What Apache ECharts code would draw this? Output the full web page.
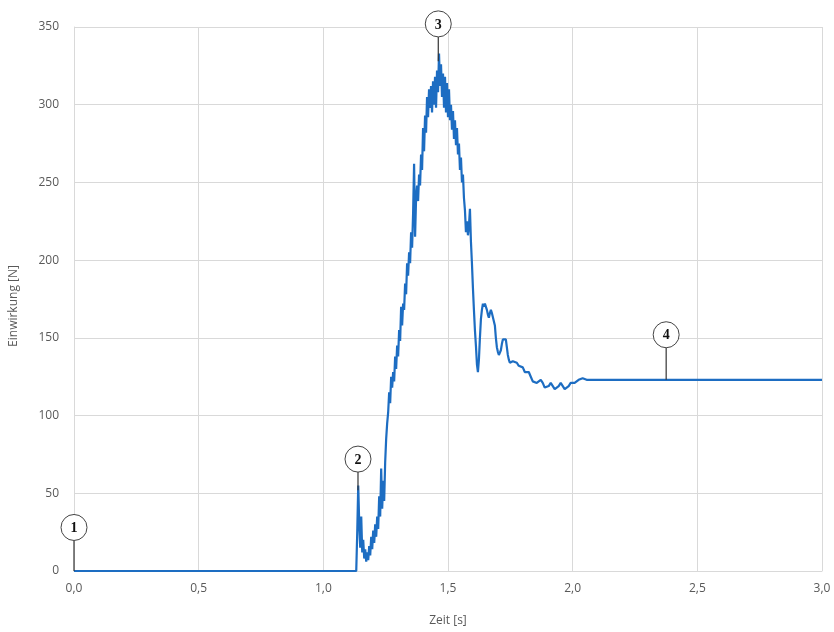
<!DOCTYPE html>
<html>
<head>
<meta charset="utf-8">
<script src="https://cdn.jsdelivr.net/npm/echarts@6/dist/echarts.min.js"></script>
<style>
html,body{margin:0;padding:0;background:#fff;}
#chart{width:834px;height:632px;}
</style>
</head>
<body>
<div id="chart"></div>
<script>
// Time [s] and force [N]
const timeStart = [0.000];
const forceStart = [0];

const timeA = [1.132,1.136,1.140,1.144,1.148,1.152,1.156,1.160,1.164,1.168,
               1.172,1.176,1.180,1.184,1.188,1.192,1.196,1.200,1.204,1.208,
               1.212,1.216,1.220,1.224,1.228,1.232,1.236,1.240,1.244,1.248];
const forceA = [0,25,55,30,15,35,12,20,8,14,
                6,12,7,16,10,22,14,26,18,30,
                22,35,27,48,35,66,40,58,45,70];

const timeB = [1.252,1.256,1.260,1.264,1.268,1.272,1.276,1.280,1.284,1.288,
               1.292,1.296,1.300,1.304,1.308,1.312,1.316,1.320,1.324,1.328,
               1.332,1.336,1.340,1.344,1.348,1.352,1.356,1.360,1.364,1.368];
const forceB = [85,95,102,115,108,125,118,128,122,138,
                130,145,138,155,148,170,158,172,168,185,
                178,198,190,205,198,218,208,230,262,215];

const timeC = [1.372,1.376,1.380,1.384,1.388,1.392,1.396,1.400,1.404,1.408,
               1.412,1.416,1.420,1.424,1.428,1.432,1.436,1.440,1.444,1.448,
               1.452,1.456,1.460,1.464,1.468,1.472,1.476,1.480,1.484,1.488];
const forceC = [240,248,238,255,248,268,258,285,270,293,
                282,305,292,310,298,312,295,315,300,318,
                298,322,308,333,312,326,305,320,298,318];

const timeD = [1.492,1.496,1.500,1.504,1.508,1.512,1.516,1.520,1.524,1.528,
               1.532,1.536,1.540,1.544,1.548,1.552,1.556,1.560,1.564,1.568,
               1.572,1.576,1.580,1.584,1.588,1.592,1.596,1.600,1.604,1.608];
const forceD = [295,314,292,310,290,300,284,296,278,290,
                274,285,268,275,258,266,250,255,240,232,
                218,225,216,222,233,212,198,182,168,155];

const timeE = [1.612,1.616,1.620,1.624,1.628,1.632,1.636,1.640,1.644,1.648,
               1.652,1.656,1.660,1.664,1.668,1.672,1.676,1.680,1.684,1.688,
               1.692,1.696,1.700,1.704,1.708,1.712,1.716,1.720,1.724,1.728];
const forceE = [145,133,128,136,150,162,168,172,170,172,
                172,168,165,163,166,168,166,166,165,158,
                150,144,141,139,140,142,146,149,150,150];

const timeF = [1.732,1.736,1.740,1.744,1.748,1.752];
const forceF = [149,144,139,136,134,133];

const timeG = [1.760,1.768,1.776,1.784,1.792,1.800,1.808,1.816,1.824,1.832,
               1.840,1.848,1.856,1.864,1.872,1.880,1.888,1.896,1.904,1.912,
               1.920,1.928,1.936,1.944,1.952,1.960,1.968,1.976,1.984,1.992,
               2.000,2.008,2.016,2.024,2.032,2.040,2.048,2.056];
const forceG = [135,136,134,132,133,131,128,129,128,125,
                122,121,121,122,123,121,118,117,119,121,
                120,117,117,119,121,120,117,117,119,121,
                120,121,122,123,124,124,123,123];

const timeEnd = [3.000];
const forceEnd = [123];

// Annotation markers (numbered circles with leader lines)
const annotLabels = ['1','2','3','4'];
const annotTime = [0.0, 1.139, 1.461, 2.375];
const annotCircleForce = [28, 72, 352, 152];
const annotPointForce = [0, 52, 328, 123];

// Axis ticks
const xTicks = [0, 0.5, 1.0, 1.5, 2.0, 2.5, 3.0];
const yTicks = [0, 50, 100, 150, 200, 250, 300, 350];

const allTime = [].concat(timeStart, timeA, timeB, timeC, timeD, timeE, timeF, timeG, timeEnd);
const allForce = [].concat(forceStart, forceA, forceB, forceC, forceD, forceE, forceF, forceG, forceEnd);
const seriesData = allTime.map((t, i) => [t, allForce[i]]);
const annotData = annotLabels.map((l, i) => [annotTime[i], annotCircleForce[i], annotPointForce[i], l]);

const chart = echarts.init(document.getElementById('chart'), null, {renderer: 'canvas'});
const labelColor = '#595959';
const fontFam = '"Open Sans", "Liberation Sans", sans-serif';

chart.setOption({
  animation: false,
  backgroundColor: '#fff',
  grid: {left: 72, right: 12, top: 27, bottom: 53, containLabel: false},
  xAxis: {
    type: 'value',
    min: xTicks[0], max: xTicks[xTicks.length - 1], interval: 0.5,
    name: 'Zeit [s]', nameLocation: 'middle', nameGap: 44,
    nameTextStyle: {color: labelColor, fontSize: 12, fontFamily: fontFam},
    axisLine: {show: true, lineStyle: {color: '#d9d9d9'}},
    axisTick: {show: false},
    axisLabel: {color: labelColor, fontSize: 12, fontFamily: fontFam, margin: 12,
      formatter: v => v.toFixed(1).replace('.', ',')},
    splitLine: {show: true, lineStyle: {color: '#d9d9d9', width: 1}}
  },
  yAxis: {
    type: 'value',
    min: yTicks[0], max: yTicks[yTicks.length - 1], interval: 50,
    name: 'Einwirkung [N]', nameLocation: 'middle', nameGap: 54, nameRotate: 90,
    nameTextStyle: {color: labelColor, fontSize: 12, fontFamily: fontFam, padding: [0, 14, 0, 0]},
    axisLine: {show: true, lineStyle: {color: '#d9d9d9'}},
    axisTick: {show: false},
    axisLabel: {color: labelColor, fontSize: 12, fontFamily: fontFam, margin: 15},
    splitLine: {show: true, lineStyle: {color: '#d9d9d9', width: 1}}
  },
  series: [
    {
      type: 'line',
      data: seriesData,
      showSymbol: false,
      symbol: 'none',
      lineStyle: {color: '#1d6dc2', width: 2.2},
      z: 3
    },
    {
      type: 'custom',
      clip: false,
      z: 5,
      data: annotData,
      renderItem: function (params, api) {
        const c = api.coord([api.value(0), api.value(1)]);
        const p = api.coord([api.value(0), api.value(2)]);
        const r = 13;
        return {
          type: 'group',
          children: [
            {type: 'line', shape: {x1: c[0], y1: c[1] + r, x2: p[0], y2: p[1]},
             style: {stroke: '#333', lineWidth: 1.2}},
            {type: 'circle', shape: {cx: c[0], cy: c[1], r: r},
             style: {fill: '#fff', stroke: '#444', lineWidth: 1}},
            {type: 'text', style: {x: c[0], y: c[1] + 1, text: annotData[params.dataIndex][3],
              align: 'center', verticalAlign: 'middle',
              font: 'bold 14px "Liberation Serif", "DejaVu Serif", serif', fill: '#111'}}
          ]
        };
      }
    }
  ]
});
</script>
</body>
</html>
